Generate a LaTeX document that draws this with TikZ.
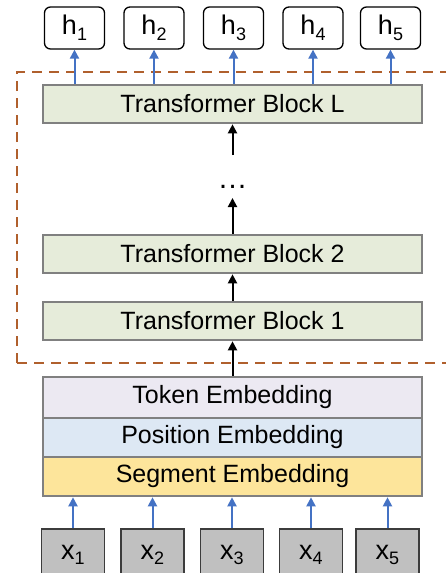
\documentclass[tikz,border=0pt]{standalone}
\usepackage{fontspec}
\setmainfont{Liberation Sans}
\usetikzlibrary{arrows.meta}
\definecolor{blockfill}{RGB}{230,236,218}
\definecolor{tokfill}{RGB}{236,233,242}
\definecolor{posfill}{RGB}{221,232,244}
\definecolor{segfill}{RGB}{253,229,155}
\definecolor{bordergray}{RGB}{128,128,128}
\definecolor{xfill}{RGB}{192,192,192}
\definecolor{xborder}{RGB}{60,60,60}
\definecolor{arrowblue}{RGB}{68,114,196}
\definecolor{dashbrown}{RGB}{176,96,45}
\tikzset{
  x=1pt, y=1pt,
  blk/.style={draw=bordergray, line width=2.6pt, minimum width=379pt, minimum height=38pt, inner sep=0pt,
    font=\fontsize{25}{30}\selectfont},
  hbox/.style={draw=black, line width=1.3pt, rounded corners=6pt, minimum width=60pt, minimum height=42pt, inner sep=0pt,
    font=\fontsize{27}{30}\selectfont},
  xbox/.style={draw=xborder, fill=xfill, line width=1.5pt, minimum width=63pt, minimum height=52pt, inner sep=0pt,
    font=\fontsize{27}{30}\selectfont},
  bluearrow/.style={draw=arrowblue, line width=2pt, -{Triangle[length=9pt,width=9pt]}},
  blackarrow/.style={draw=black, line width=2pt, -{Triangle[length=9pt,width=9pt]}},
}
\newcommand{\sub}[1]{\raisebox{-0.4ex}{\fontsize{18}{20}\selectfont #1}}
\begin{document}
\begin{tikzpicture}
\useasboundingbox (0,0) rectangle (446,-573);
% dashed region
\draw[dashbrown, line width=2pt, dash pattern=on 10pt off 7pt] (17,-363) -- (17,-72) -- (470,-72);
\draw[dashbrown, line width=2pt, dash pattern=on 10pt off 7pt] (17,-363) -- (470,-363);
% output boxes
\node[hbox] (h1) at (74.5,-28) {h\sub{1}};
\node[hbox] (h2) at (154,-28) {h\sub{2}};
\node[hbox] (h3) at (233.5,-28) {h\sub{3}};
\node[hbox] (h4) at (313,-28) {h\sub{4}};
\node[hbox] (h5) at (390.5,-28) {h\sub{5}};
% transformer blocks
\node[blk, fill=blockfill] (bL) at (232.5,-104) {Transformer Block L};
\node[blk, fill=blockfill] (b2) at (232.5,-254) {Transformer Block 2};
\node[blk, fill=blockfill] (b1) at (232.5,-321) {Transformer Block 1};
% embeddings
\node[blk, fill=tokfill, minimum height=41pt] (tok) at (232.5,-397.5) {Token Embedding};
\node[blk, fill=posfill, minimum height=39pt] (pos) at (232.5,-437.5) {Position Embedding};
\node[blk, fill=segfill, minimum height=39pt] (seg) at (232.5,-476.5) {Segment Embedding};
% inputs
\node[xbox] (x1) at (73,-555) {x\sub{1}};
\node[xbox] (x2) at (152.5,-555) {x\sub{2}};
\node[xbox] (x3) at (232,-555) {x\sub{3}};
\node[xbox] (x4) at (311,-555) {x\sub{4}};
\node[xbox] (x5) at (387.5,-555) {x\sub{5}};
% dots
\node[font=\fontsize{30}{30}\selectfont, inner sep=0pt] (dots) at (232.5,-187) {\dots};
\coordinate (dtop) at (232.5,-155);
\coordinate (dbot) at (232.5,-198);
% black arrows
\draw[blackarrow] (tok.north) -- (b1.south);
\draw[blackarrow] (b1.north) -- (b2.south);
\draw[blackarrow] (b2.north) -- (dbot);
\draw[blackarrow] (dtop) -- (bL.south);
% blue arrows to outputs
\foreach \i in {1,...,5} {
  \draw[bluearrow] (h\i.south |- bL.north) -- (h\i.south);
  \draw[bluearrow] (x\i.north) -- (x\i.north |- seg.south);
}
\end{tikzpicture}
\end{document}
